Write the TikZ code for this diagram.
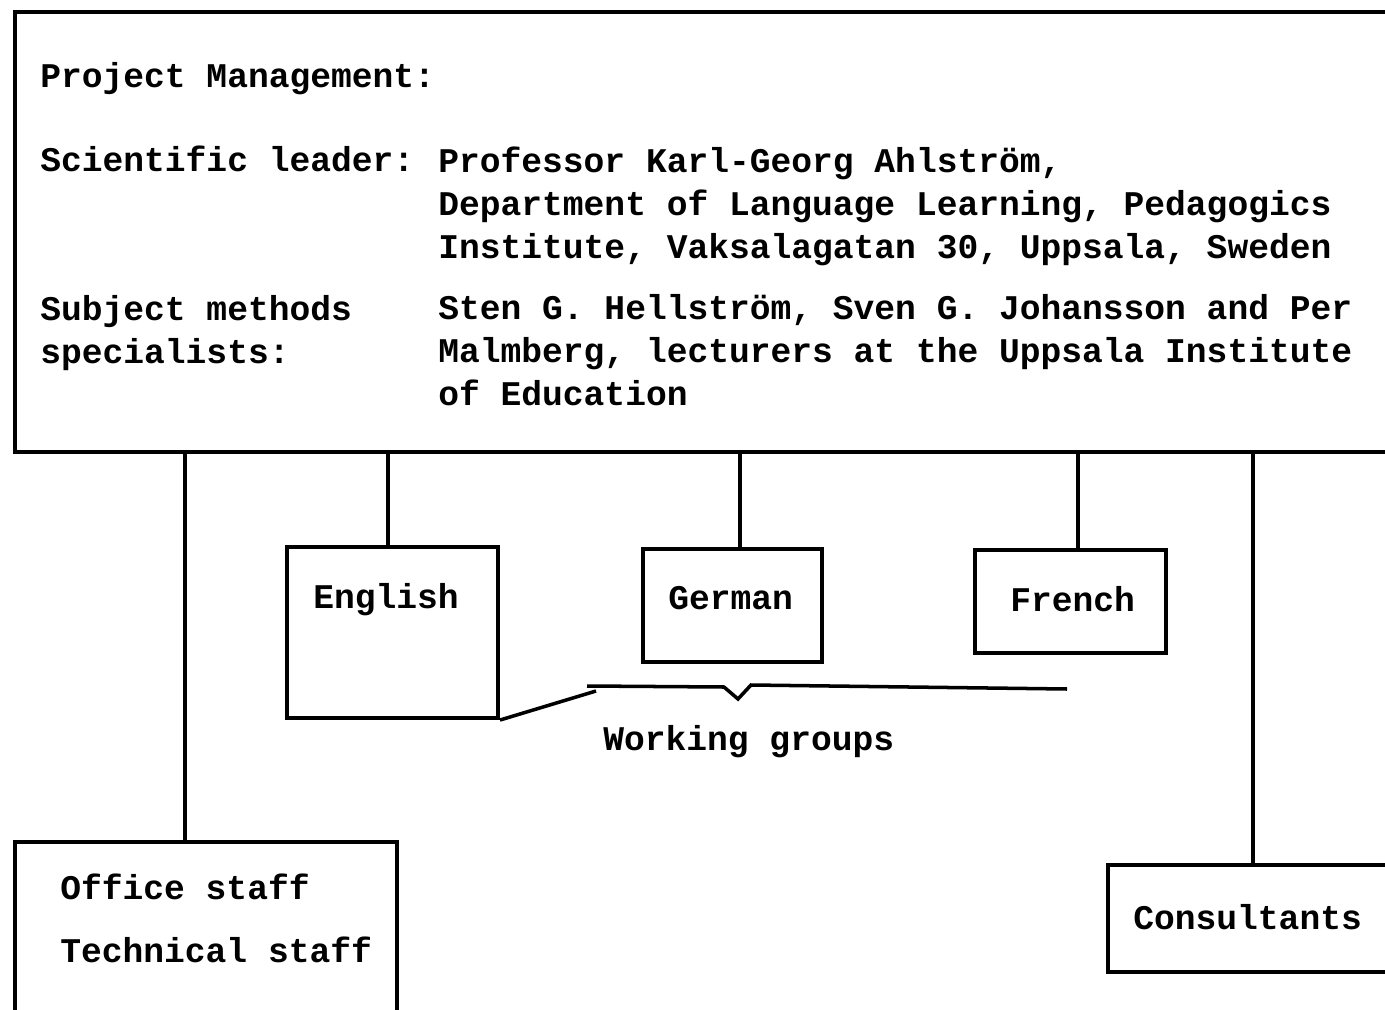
\documentclass[tikz,border=0pt]{standalone}
\usepackage{fontspec}
\setmonofont{Liberation Mono}
\usetikzlibrary{fit}

\tikzset{
  box/.style={draw, line width=2.3pt, inner sep=0pt},
  conn/.style={line width=2pt},
  txt/.style={inner sep=0pt, anchor=base west, align=left,
    font=\fontsize{19.7}{24.4}\selectfont\ttfamily\bfseries}
}

\begin{document}
\begin{tikzpicture}[x=0.02cm, y=-0.02cm]

\useasboundingbox (0,0) rectangle (1385,1010);
\clip (0,0) rectangle (1385,1010);

\node[box, fit={(15,12) (1420,452)}] (mgmt) {};
\node[box, fit={(287,547) (498,718)}] (eng) {};
\node[box, fit={(643,549) (822,662)}] (ger) {};
\node[box, fit={(975,550) (1166,653)}] (fre) {};
\node[box, fit={(15,842) (397,1040)}] (office) {};
\node[box, fit={(1108,865) (1420,972)}] (cons) {};

\node[txt] (t1) at (40, 88) {Project Management:};
\node[txt] (t2) at (40, 172) {Scientific leader:};
\node[txt] (t3) at (438, 258) {Professor Karl-Georg Ahlström,\\Department of Language Learning, Pedagogics\\Institute, Vaksalagatan 30, Uppsala, Sweden};
\node[txt] (t4) at (40, 363) {Subject methods\\specialists:};
\node[txt] (t5) at (438, 405) {Sten G. Hellström, Sven G. Johansson and Per\\Malmberg, lecturers at the Uppsala Institute\\of Education};

\node[txt] (t6) at (313, 608) {English};
\node[txt] (t7) at (668, 609) {German};
\node[txt] (t8) at (1010, 611) {French};
\node[txt] (t9) at (603, 750) {Working groups};
\node[txt] (t10) at (60, 899) {Office staff};
\node[txt] (t11) at (60, 962) {Technical staff};
\node[txt] (t12) at (1133, 929) {Consultants};

\coordinate (c1) at (185, 452);
\coordinate (c2) at (388, 452);
\coordinate (c3) at (740, 452);
\coordinate (c4) at (1078, 452);
\coordinate (c5) at (1253, 452);

\draw[conn] (c1) -- (c1 |- office.north);
\draw[conn] (c2) -- (c2 |- eng.north);
\draw[conn] (c3) -- (c3 |- ger.north);
\draw[conn] (c4) -- (c4 |- fre.north);
\draw[conn] (c5) -- (c5 |- cons.north);

\coordinate (b1) at (587, 686);
\coordinate (b2) at (1067, 689);
\draw[conn] (b1) -- (724, 687) -- (738, 699) -- (751, 685) -- (b2);
\draw[conn] (eng.south east) -- (596, 691);

\end{tikzpicture}
\end{document}
